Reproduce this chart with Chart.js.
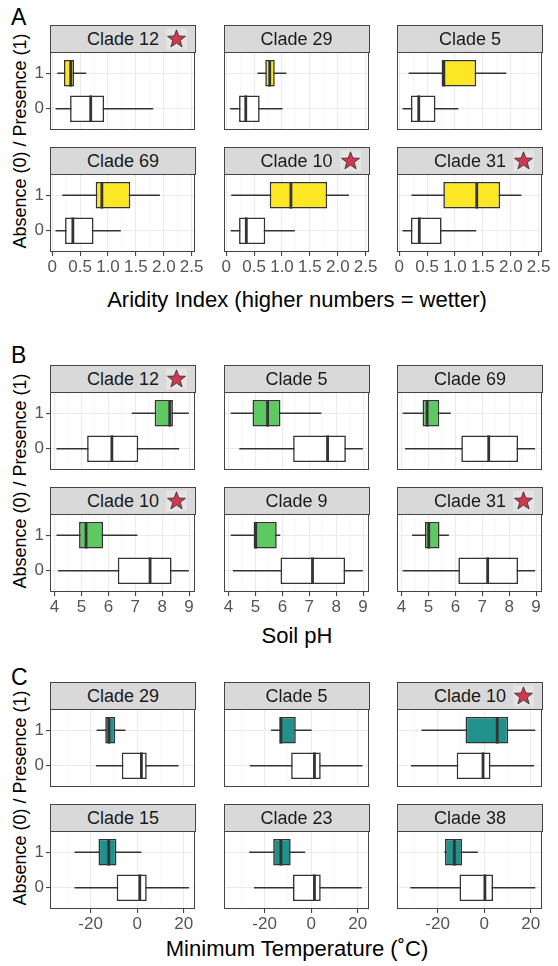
<!DOCTYPE html>
<html><head><meta charset="utf-8">
<script src="https://cdn.jsdelivr.net/npm/chart.js@4.4.1/dist/chart.umd.min.js"></script>
<style>
html,body{margin:0;padding:0;background:#fff;}
body{width:558px;height:966px;position:relative;overflow:hidden;font-family:'Liberation Sans',Arial,Helvetica,sans-serif;}
.strip{position:absolute;background:#D9D9D9;border:1px solid #444;box-sizing:border-box;text-align:center;color:#1A1A1A;font-size:18px;}
.strip span.t{position:relative;display:inline-block;}
.star{position:absolute;top:50%;transform:translateY(-50%);width:21px;height:21px;background:#E4E4E4;}
.star svg{display:block}
.letter{position:absolute;font-size:23px;color:#000;}
.xt{position:absolute;font-size:22px;color:#000;text-align:center;white-space:nowrap;transform:translate(-50%,-50%);}
.yt{position:absolute;font-size:18px;color:#000;white-space:nowrap;transform:translate(-50%,-50%) rotate(-90deg);}
canvas{position:absolute;}
</style></head><body>
<script>
// ---------------- DATA ----------------
const panelLetters = ['A', 'B', 'C'];
const xTitles = ['Aridity Index (higher numbers = wetter)', 'Soil pH', 'Minimum Temperature (\u02DAC)'];
const yTitle = 'Absence (0) / Presence (1)';
const yLevels = ['0', '1'];

const cladesA = ['Clade 12', 'Clade 29', 'Clade 5', 'Clade 69', 'Clade 10', 'Clade 31'];
const cladesB = ['Clade 12', 'Clade 5', 'Clade 69', 'Clade 10', 'Clade 9', 'Clade 31'];
const cladesC = ['Clade 29', 'Clade 5', 'Clade 10', 'Clade 15', 'Clade 23', 'Clade 38'];
const starsA = [true, false, false, false, true, true];
const starsB = [true, false, false, true, false, true];
const starsC = [false, false, true, false, false, false];

// [lower whisker, Q1, median, Q3, upper whisker]
const aridityPresent = [
  [0.09, 0.21, 0.33, 0.39, 0.61], [0.56, 0.70, 0.78, 0.87, 1.08], [0.17, 0.76, 0.80, 1.38, 1.92],
  [0.18, 0.78, 0.89, 1.40, 1.93], [0.09, 0.78, 1.16, 1.81, 2.20], [0.22, 0.79, 1.39, 1.81, 2.19]];
const aridityAbsent = [
  [0.06, 0.32, 0.69, 0.93, 1.81], [0.07, 0.23, 0.35, 0.60, 1.01], [0.06, 0.21, 0.35, 0.65, 1.06],
  [0.06, 0.23, 0.37, 0.74, 1.23], [0.08, 0.23, 0.36, 0.70, 1.23], [0.06, 0.21, 0.36, 0.76, 1.38]];
const phPresent = [
  [6.87, 7.72, 8.28, 8.40, 8.99], [4.08, 4.89, 5.45, 5.93, 7.45], [4.04, 4.78, 4.95, 5.40, 5.83],
  [4.07, 4.91, 5.17, 5.80, 7.08], [4.08, 4.93, 5.01, 5.79, 5.92], [4.39, 4.87, 5.01, 5.41, 5.76]];
const phAbsent = [
  [4.07, 5.21, 6.13, 7.11, 8.63], [4.40, 6.40, 7.68, 8.36, 8.99], [4.13, 6.22, 7.24, 8.33, 8.96],
  [4.13, 6.35, 7.55, 8.35, 8.99], [4.16, 5.93, 7.12, 8.33, 8.99], [4.04, 6.11, 7.20, 8.33, 8.96]];
const tminPresent = [
  [-17.4, -13.7, -12.1, -9.4, -5.0], [-17.2, -13.6, -13.0, -6.6, 0.2], [-26.9, -8.0, 5.6, 10.3, 21.9],
  [-26.9, -16.6, -12.2, -8.9, 1.8], [-26.6, -16.3, -13.0, -8.8, -2.6], [-17.1, -16.8, -12.8, -9.5, -2.7]];
const tminAbsent = [
  [-17.7, -6.6, 1.8, 4.1, 17.7], [-26.3, -8.6, 1.4, 4.1, 22.0], [-31.4, -11.8, -0.5, 2.7, 21.4],
  [-26.9, -8.8, 1.1, 4.1, 22.2], [-24.5, -7.8, 1.4, 4.1, 21.7], [-31.7, -10.6, 0.3, 3.8, 21.9]];

const aridityTicks = [0, 0.5, 1, 1.5, 2, 2.5];
const aridityTickLabels = ['0', '0.5', '1.0', '1.5', '2.0', '2.5'];
const phTicks = [4, 5, 6, 7, 8, 9];
const phTickLabels = ['4', '5', '6', '7', '8', '9'];
const tminTicks = [-20, 0, 20];
const tminTickLabels = ['-20', '0', '20'];
const aridityLimits = [-0.04, 2.56];
const phLimits = [3.83, 9.22];
const tminLimits = [-37.4, 24.8];

const presentColors = ['#FDE725', '#5EC962', '#21918C'];
const absentColor = '#FFFFFF';

// ---------------- LAYOUT ----------------
const colLeft = [50, 223.5, 397];
const panelW = 145;
const stripH = 27;
const panelH = 78;
const stripTops = [[25, 147], [365, 487], [682, 804]];
const letterY = [17, 355, 677];
const titleY = [300, 636, 949];
const lineCol = '#333333';

const panels = [
  {clades: cladesA, stars: starsA, pres: aridityPresent, abs: aridityAbsent, ticks: aridityTicks, tickLabels: aridityTickLabels, lim: aridityLimits},
  {clades: cladesB, stars: starsB, pres: phPresent, abs: phAbsent, ticks: phTicks, tickLabels: phTickLabels, lim: phLimits},
  {clades: cladesC, stars: starsC, pres: tminPresent, abs: tminAbsent, ticks: tminTicks, tickLabels: tminTickLabels, lim: tminLimits}
];

Chart.defaults.font.family = "'Liberation Sans', Arial, Helvetica, sans-serif";
Chart.defaults.animation = false;

const starSvg = '<svg width="21" height="21" viewBox="0 0 24 24"><polygon points="12,1.5 14.7,8.6 22.3,8.9 16.3,13.6 18.4,21 12,16.7 5.6,21 7.7,13.6 1.7,8.9 9.3,8.6" fill="#D0394F" stroke="#2a2a2a" stroke-width="0.9" stroke-linejoin="miter"/></svg>';

const borderPlugin = {
  id: 'panelBorder',
  afterDraw(chart) {
    const a = chart.chartArea, c = chart.ctx;
    c.save();
    c.strokeStyle = '#444';
    c.lineWidth = 1;
    c.strokeRect(Math.round(a.left) + 0.5, Math.round(a.top) + 0.5, Math.round(a.right - a.left) - 1, Math.round(a.bottom - a.top) - 1);
    c.restore();
  }
};

function el(cls, html, css) {
  const d = document.createElement('div');
  d.className = cls; d.innerHTML = html;
  Object.assign(d.style, css);
  document.body.appendChild(d);
  return d;
}

const PADL = 34, PADR = 16, PADT = 14, PADB = 14, XH = 30;

panels.forEach((P, pi) => {
  el('letter', panelLetters[pi], {left: '11px', top: (letterY[pi] - 13) + 'px'});
  el('xt', xTitles[pi], {left: '297px', top: titleY[pi] + 'px'});
  const yMid = (stripTops[pi][0] + stripTops[pi][1] + stripH + panelH) / 2 + 2;
  el('yt', yTitle, {left: '20px', top: yMid + 'px'});

  const step = P.ticks[1] - P.ticks[0];
  const minors = [];
  for (let k = -1; k < P.ticks.length; k++) {
    const v = P.ticks[0] + step * (k + 0.5);
    if (v > P.lim[0] && v < P.lim[1]) minors.push(v);
  }
  const allTicks = P.ticks.concat(minors).sort((a, b) => a - b);
  const isMajor = v => P.ticks.some(t => Math.abs(t - v) < 1e-9);

  P.clades.forEach((name, i) => {
    const col = i % 3, row = Math.floor(i / 3);
    const sTop = stripTops[pi][row];
    el('strip', '<span class="t">' + name + (P.stars[i] ? '<span class="star" style="left:calc(100% + 7px)">' + starSvg + '</span>' : '') + '</span>',
      {left: colLeft[col] + 'px', top: sTop + 'px', width: (panelW + 1) + 'px', height: (stripH + 1) + 'px', lineHeight: (stripH - 1) + 'px'});

    const pTop = sTop + stripH;
    const bottomRow = row === 1, leftCol = col === 0;
    const cv = document.createElement('canvas');
    const W = PADL + panelW + PADR, H = PADT + panelH + (bottomRow ? XH : PADB);
    cv.width = W; cv.height = H;
    cv.style.left = (colLeft[col] - PADL) + 'px';
    cv.style.top = (pTop - PADT) + 'px';
    cv.style.width = W + 'px'; cv.style.height = H + 'px';
    document.body.appendChild(cv);

    const groups = [P.pres[i], P.abs[i]];
    const yv = [2, 1];
    const fills = [presentColors[pi], absentColor];
    const datasets = [];
    groups.forEach((g, k) => {
      datasets.push({type: 'line', data: [{x: g[0], y: yv[k]}, {x: g[4], y: yv[k]}], borderColor: lineCol, borderWidth: 1.5, pointRadius: 0, order: 3});
    });
    datasets.push({type: 'bar', data: groups.map((g, k) => ({x: [g[1], g[3]], y: yv[k]})),
      backgroundColor: fills, borderColor: lineCol, borderWidth: 1.6, borderSkipped: false,
      barPercentage: 0.75, categoryPercentage: 1, order: 2});
    groups.forEach((g, k) => {
      datasets.push({type: 'line', data: [{x: g[2], y: yv[k] - 0.375}, {x: g[2], y: yv[k] + 0.375}], borderColor: lineCol, borderWidth: 2.8, pointRadius: 0, order: 1});
    });

    new Chart(cv, {
      type: 'bar',
      data: {datasets},
      plugins: [borderPlugin],
      options: {
        responsive: false, animation: false, events: [], indexAxis: 'y',
        layout: {padding: {left: leftCol ? 0 : PADL, right: PADR, top: PADT, bottom: bottomRow ? 0 : PADB}},
        plugins: {legend: {display: false}, tooltip: {enabled: false}},
        scales: {
          x: {
            type: 'linear', min: P.lim[0], max: P.lim[1], offset: false,
            afterBuildTicks: sc => { sc.ticks = allTicks.map(v => ({value: v})); },
            afterFit: sc => { sc.height = bottomRow ? XH : 0; },
            border: {display: false},
            grid: {
              offset: false,
              color: c => isMajor(c.tick.value) ? '#EBEBEB' : '#F3F3F3',
              lineWidth: c => isMajor(c.tick.value) ? 1.1 : 0.7,
              tickColor: c => isMajor(c.tick.value) ? '#444' : 'rgba(0,0,0,0)',
              tickLength: 4, drawTicks: bottomRow
            },
            ticks: {
              display: bottomRow, autoSkip: false, maxRotation: 0, minRotation: 0, padding: 1,
              color: '#555', font: {size: 17},
              callback: v => { const j = P.ticks.findIndex(t => Math.abs(t - v) < 1e-9); return j >= 0 ? P.tickLabels[j] : ''; }
            }
          },
          y: {
            type: 'linear', min: 0.4, max: 2.6, offset: false,
            afterBuildTicks: sc => { sc.ticks = [{value: 1}, {value: 2}]; },
            afterFit: sc => { sc.width = leftCol ? PADL : 0; },
            border: {display: false},
            grid: {offset: false, color: '#EBEBEB', lineWidth: 1.1, tickColor: '#444', tickLength: 4, drawTicks: leftCol},
            ticks: {display: leftCol, padding: 2, color: '#555', font: {size: 17}, callback: v => yLevels[v - 1]}
          }
        }
      }
    });
  });
});
</script>
</body></html>
